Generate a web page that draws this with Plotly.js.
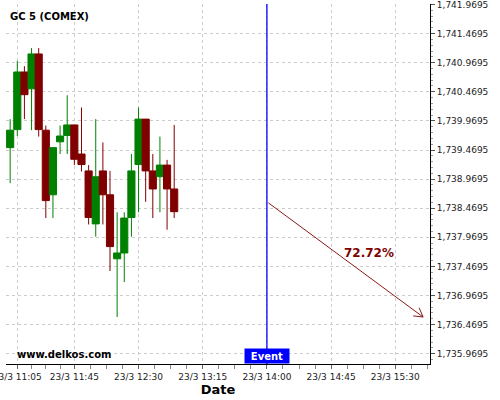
<!DOCTYPE html>
<html>
<head>
<meta charset="utf-8">
<script src="https://cdn.plot.ly/plotly-3.0.1.min.js"></script>
<style>html,body{margin:0;padding:0;background:#fff;}#chart{width:500px;height:400px;}</style>
</head>
<body>
<div id="chart"></div>
<script>
// ---- data ----
const times = [
  '2024-03-23 11:00','2024-03-23 11:05','2024-03-23 11:10','2024-03-23 11:15',
  '2024-03-23 11:20','2024-03-23 11:25','2024-03-23 11:30','2024-03-23 11:35',
  '2024-03-23 11:40','2024-03-23 11:45','2024-03-23 11:50','2024-03-23 11:55',
  '2024-03-23 12:00','2024-03-23 12:05','2024-03-23 12:10','2024-03-23 12:15',
  '2024-03-23 12:20','2024-03-23 12:25','2024-03-23 12:30','2024-03-23 12:35',
  '2024-03-23 12:40','2024-03-23 12:45','2024-03-23 12:50','2024-03-23 12:55'
];
const openV  = [1739.51,1739.82,1740.81,1740.52,1741.12,1739.81,1738.70,1739.61,1739.72,1739.90,1739.40,1739.11,1738.20,1739.11,1738.70,1737.60,1737.70,1738.31,1739.22,1740.00,1739.11,1739.01,1739.21,1738.80];
const highV  = [1740.00,1741.00,1740.91,1741.22,1741.22,1739.89,1739.51,1739.89,1740.41,1739.90,1740.20,1739.21,1740.00,1739.60,1739.11,1738.40,1738.40,1739.40,1740.20,1740.00,1739.40,1739.70,1739.30,1739.90];
const lowV   = [1738.90,1739.71,1740.00,1739.81,1739.70,1738.30,1738.30,1739.40,1739.40,1739.21,1739.10,1738.19,1737.98,1738.19,1737.39,1736.60,1737.20,1737.98,1738.40,1738.58,1738.30,1738.40,1738.10,1738.30];
const closeV = [1739.81,1740.81,1740.42,1741.12,1739.82,1738.60,1739.51,1739.71,1739.90,1739.31,1739.22,1738.31,1739.01,1738.70,1737.81,1737.70,1738.30,1739.11,1740.00,1739.11,1738.80,1739.21,1738.80,1738.41];

const xTickVals = ['2024-03-23 11:05','2024-03-23 11:45','2024-03-23 12:30','2024-03-23 13:15','2024-03-23 14:00','2024-03-23 14:45','2024-03-23 15:30'];
const xTickText = ['23/3 11:05','23/3 11:45','23/3 12:30','23/3 13:15','23/3 14:00','23/3 14:45','23/3 15:30'];

const eventTime = '2024-03-23 14:00';
const arrowStart = ['2024-03-23 14:00', 1738.58];
const arrowEnd   = ['2024-03-23 15:49:30', 1736.60];
const forecastLabel = '72.72%';
const forecastLabelPos = ['2024-03-23 15:11:30', 1737.70];

const titleText = 'GC 5 (COMEX)';
const watermark = 'www.delkos.com';

const F = 'DejaVu Sans, sans-serif';
const arrowColor = '#8b1a1a';

const trace = {
  type: 'candlestick',
  x: times, open: openV, high: highV, low: lowV, close: closeV,
  increasing: {line: {color: '#008000', width: 1}, fillcolor: '#008000'},
  decreasing: {line: {color: '#800000', width: 1}, fillcolor: '#800000'},
  whiskerwidth: 0,
  hoverinfo: 'skip',
  showlegend: false
};

const minorX = ['2024-03-23 11:15','2024-03-23 11:25','2024-03-23 11:35',
  '2024-03-23 11:56:15','2024-03-23 12:07:30','2024-03-23 12:18:45',
  '2024-03-23 12:41:15','2024-03-23 12:52:30','2024-03-23 13:03:45',
  '2024-03-23 13:26:15','2024-03-23 13:37:30','2024-03-23 13:48:45',
  '2024-03-23 14:11:15','2024-03-23 14:22:30','2024-03-23 14:33:45',
  '2024-03-23 14:56:15','2024-03-23 15:07:30','2024-03-23 15:18:45',
  '2024-03-23 15:41:15','2024-03-23 15:52:30'];

function headArm(dx, dy) {
  return {type: 'line', xref: 'x', yref: 'y', xsizemode: 'pixel', ysizemode: 'pixel',
          xanchor: arrowEnd[0], yanchor: arrowEnd[1], x0: 0, y0: 0, x1: dx, y1: dy,
          line: {color: arrowColor, width: 1}};
}

const layout = {
  width: 500, height: 400,
  margin: {l: 6, r: 70, t: 4, b: 36},
  paper_bgcolor: '#fff', plot_bgcolor: '#fff',
  boxgap: 0, boxgroupgap: 0,
  showlegend: false,
  title: {text: '<b>' + titleText + '</b>', font: {family: F, size: 10, color: '#000'},
          xref: 'container', yref: 'container', x: 0.02, xanchor: 'left', y: 1 - 16/400, yanchor: 'middle'},
  xaxis: {
    type: 'date',
    range: ['2024-03-23 10:57:05', '2024-03-23 15:54:20'],
    rangeslider: {visible: false},
    tickmode: 'array', tickvals: xTickVals, ticktext: xTickText,
    ticklabeloverflow: 'allow',
    tickfont: {family: F, size: 9, color: '#222'},
    ticks: 'outside', ticklen: 4, tickcolor: '#666',
    showline: true, linecolor: '#000', linewidth: 1,
    showgrid: true, gridcolor: '#cccccc', griddash: '3px,3px', gridwidth: 1,
    zeroline: false,
    minor: {tickmode: 'array', tickvals: minorX, ticks: 'outside', ticklen: 4, tickcolor: '#888', showgrid: false},
    title: {text: '<b>Date</b>', font: {family: F, size: 13, color: '#000'}, standoff: 4},
    fixedrange: true
  },
  yaxis: {
    side: 'right',
    range: [1735.7925, 1741.978],
    tickmode: 'linear', tick0: 1735.9695, dtick: 0.5,
    tickformat: ',.4f',
    ticklabeloverflow: 'allow',
    tickfont: {family: F, size: 9, color: '#222'},
    ticks: 'outside', ticklen: 4, tickcolor: '#555',
    showline: true, linecolor: '#000', linewidth: 1,
    showgrid: true, gridcolor: '#cccccc', griddash: '3px,3px', gridwidth: 1,
    zeroline: false,
    minor: {tick0: 1735.9695, dtick: 0.1, ticks: 'outside', ticklen: 2, tickcolor: '#999', showgrid: false},
    fixedrange: true
  },
  shapes: [
    {type: 'line', xref: 'x', yref: 'paper', x0: eventTime, x1: eventTime, y0: 0, y1: 1,
     line: {color: '#0000ff', width: 1.3}},
    headArm(-9.9, 1.1),
    headArm(-4.0, 9.2)
  ],
  annotations: [
    {xref: 'x', yref: 'paper', x: eventTime, y: 0, yanchor: 'bottom', xanchor: 'center',
     text: '<b>Event</b>', showarrow: false, bgcolor: '#0000ff', width: 44, height: 14, borderpad: 0,
     font: {family: F, size: 10, color: '#fff'}},
    {xref: 'x', yref: 'y', axref: 'x', ayref: 'y',
     x: arrowEnd[0], y: arrowEnd[1], ax: arrowStart[0], ay: arrowStart[1],
     text: '', showarrow: true, arrowhead: 0, arrowwidth: 1, arrowcolor: arrowColor, standoff: 0},
    {xref: 'x', yref: 'y', x: forecastLabelPos[0], y: forecastLabelPos[1], text: '<b>' + forecastLabel + '</b>',
     showarrow: false, font: {family: F, size: 12, color: '#800000'}},
    {xref: 'paper', yref: 'paper', x: 9/424, y: 10/360, xanchor: 'left', yanchor: 'middle',
     text: '<b>' + watermark + '</b>', showarrow: false, font: {family: F, size: 10, color: '#000'}}
  ]
};

Plotly.newPlot('chart', [trace], layout, {staticPlot: true, displayModeBar: false});
</script>
</body>
</html>
